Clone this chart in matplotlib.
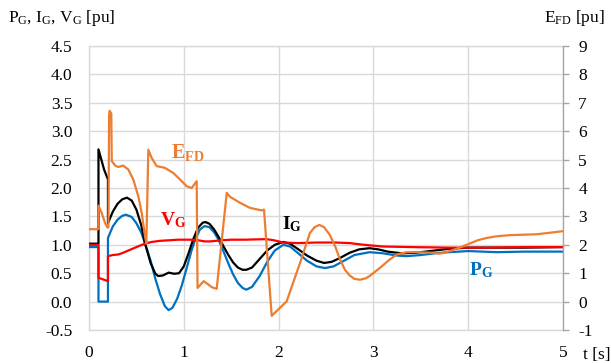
import matplotlib
matplotlib.use('Agg')
import matplotlib.pyplot as plt
from matplotlib.ticker import FixedLocator, FixedFormatter

plt.rcParams['font.family'] = ['Liberation Serif', 'DejaVu Serif']
plt.rcParams['mathtext.fontset'] = 'custom'
plt.rcParams['mathtext.rm'] = 'Liberation Serif'
plt.rcParams['mathtext.it'] = 'Liberation Serif:italic'
plt.rcParams['mathtext.bf'] = 'Liberation Serif:bold'

# ---------------- data ----------------
t_pg = [0, 0.1, 0.1, 0.2, 0.2, 0.25, 0.30, 0.35, 0.39, 0.45, 0.50, 0.55, 0.59, 0.65, 0.70, 0.75,
        0.80, 0.84, 0.88, 0.93, 0.98, 1.03, 1.08, 1.12, 1.17, 1.22, 1.27, 1.32, 1.37, 1.42, 1.47,
        1.52, 1.57, 1.62, 1.66, 1.72, 1.80, 1.88, 1.96, 2.05, 2.12, 2.20, 2.30, 2.40, 2.49, 2.58,
        2.68, 2.80, 2.96, 3.10, 3.25, 3.35, 3.50, 3.65, 3.80, 4.00, 4.30, 4.60, 5.00]
pg = [0.96, 0.96, 0.0, 0.0, 1.12, 1.32, 1.44, 1.51, 1.53, 1.49, 1.38, 1.22, 1.03, 0.72, 0.40, 0.13,
      -0.08, -0.15, -0.11, 0.05, 0.29, 0.59, 0.89, 1.09, 1.27, 1.33, 1.31, 1.22, 1.08, 0.88, 0.67,
      0.48, 0.33, 0.24, 0.21, 0.26, 0.45, 0.70, 0.90, 1.00, 0.97, 0.86, 0.72, 0.62, 0.59, 0.62,
      0.71, 0.82, 0.87, 0.85, 0.81, 0.80, 0.82, 0.85, 0.87, 0.89, 0.87, 0.88, 0.88]

t_ig = [0, 0.1, 0.1, 0.13, 0.16, 0.2, 0.2, 0.25, 0.30, 0.35, 0.40, 0.45, 0.50, 0.55, 0.59, 0.65,
        0.70, 0.73, 0.78, 0.84, 0.90, 0.95, 1.00, 1.05, 1.10, 1.15, 1.20, 1.23, 1.27, 1.32, 1.37,
        1.42, 1.47, 1.52, 1.57, 1.62, 1.66, 1.72, 1.80, 1.88, 1.96, 2.05, 2.12, 2.20, 2.30, 2.40,
        2.48, 2.56, 2.65, 2.75, 2.85, 2.96, 3.05, 3.15, 3.30, 3.45, 3.60, 3.80, 4.00, 4.30, 4.60, 5.00]
ig = [1.02, 1.02, 2.68, 2.50, 2.32, 2.15, 1.38, 1.58, 1.72, 1.80, 1.83, 1.78, 1.62, 1.35, 1.03, 0.68,
      0.49, 0.45, 0.46, 0.51, 0.49, 0.50, 0.62, 0.85, 1.10, 1.30, 1.39, 1.40, 1.37, 1.27, 1.13,
      0.97, 0.82, 0.69, 0.60, 0.56, 0.56, 0.60, 0.75, 0.90, 1.00, 1.05, 1.02, 0.93, 0.81, 0.72,
      0.68, 0.70, 0.77, 0.86, 0.92, 0.94, 0.92, 0.88, 0.85, 0.86, 0.89, 0.93, 0.95, 0.95, 0.95, 0.96]

t_vg = [0, 0.1, 0.1, 0.15, 0.2, 0.2, 0.25, 0.31, 0.36, 0.43, 0.50, 0.59, 0.66, 0.75, 0.85, 0.94,
        1.07, 1.15, 1.22, 1.28, 1.40, 1.50, 1.65, 1.87, 1.95, 2.05, 2.20, 2.40, 2.60, 2.75, 2.90,
        3.10, 3.40, 3.80, 4.20, 4.60, 5.00]
vg = [1.00, 1.00, 0.42, 0.39, 0.36, 0.80, 0.82, 0.83, 0.86, 0.91, 0.96, 1.02, 1.05, 1.07, 1.08, 1.09,
      1.09, 1.08, 1.06, 1.06, 1.08, 1.09, 1.09, 1.10, 1.08, 1.04, 1.03, 1.04, 1.04, 1.03, 1.00,
      0.97, 0.96, 0.95, 0.95, 0.96, 0.96]

t_efd = [0, 0.1, 0.1, 0.134, 0.169, 0.197, 0.205, 0.212, 0.218, 0.235, 0.24, 0.256, 0.28, 0.31,
         0.36, 0.415, 0.467, 0.52, 0.556, 0.591, 0.605, 0.626, 0.661, 0.714, 0.80, 0.889, 0.96,
         1.031, 1.083, 1.136, 1.145, 1.21, 1.30, 1.347, 1.453, 1.487, 1.593, 1.698, 1.822, 1.846,
         1.927, 2.085, 2.226, 2.331, 2.38, 2.43, 2.48, 2.54, 2.60, 2.648, 2.70, 2.75, 2.80, 2.859,
         2.92, 2.96, 3.07, 3.16, 3.246, 3.35, 3.457, 3.63, 3.70, 3.81, 3.91, 4.02, 4.10, 4.195,
         4.30, 4.44, 4.72, 4.85, 5.0]
efd = [2.55, 2.55, 3.38, 3.12, 2.77, 2.60, 2.62, 6.55, 6.72, 6.62, 4.95, 4.88, 4.78, 4.74,
       4.79, 4.65, 4.30, 3.71, 3.12, 2.30, 2.05, 5.35, 5.06, 4.77, 4.71, 4.53, 4.30,
       4.06, 4.00, 4.24, 0.48, 0.72, 0.50, 0.45, 3.83, 3.69, 3.48, 3.30, 3.21, 3.24,
       -0.50, 0.01, 1.36, 2.42, 2.62, 2.70, 2.62, 2.35, 1.92, 1.48, 1.12, 0.92, 0.80, 0.77,
       0.82, 0.90, 1.19, 1.45, 1.66, 1.74, 1.74, 1.72, 1.69, 1.78, 1.90, 2.05, 2.16, 2.24,
       2.30, 2.34, 2.37, 2.42, 2.48]

x_ticks = [0, 1, 2, 3, 4, 5]
x_labels = ['0', '1', '2', '3', '4', '5']
yl_ticks = [-0.5, 0.0, 0.5, 1.0, 1.5, 2.0, 2.5, 3.0, 3.5, 4.0, 4.5]
yl_labels = ['-0.5', '0.0', '0.5', '1.0', '1.5', '2.0', '2.5', '3.0', '3.5', '4.0', '4.5']
yr_ticks = [-1, 0, 1, 2, 3, 4, 5, 6, 7, 8, 9]
yr_labels = ['-1', '0', '1', '2', '3', '4', '5', '6', '7', '8', '9']

# ---------------- styles ----------------
C_PG = '#0070C0'
C_IG = '#000000'
C_VG = '#FF0000'
C_EFD = '#ED7D31'
GRID = '#D9D9D9'
LW = 1.6

W, H = 611, 363
fig = plt.figure(figsize=(W / 100, H / 100), dpi=100)
x0, x1, ytop, ybot = 89, 563, 46, 330
ax = fig.add_axes([x0 / W, 1 - ybot / H, (x1 - x0) / W, (ybot - ytop) / H])
ax2 = ax.twinx()

ax.set_xlim(0, 5)
ax.set_ylim(-0.5, 4.5)
ax2.set_ylim(-1, 9)

ax.xaxis.set_major_locator(FixedLocator(x_ticks))
ax.xaxis.set_major_formatter(FixedFormatter(x_labels))
ax.yaxis.set_major_locator(FixedLocator(yl_ticks))
ax.yaxis.set_major_formatter(FixedFormatter(yl_labels))
ax2.yaxis.set_major_locator(FixedLocator(yr_ticks))
ax2.yaxis.set_major_formatter(FixedFormatter(yr_labels))

ax.grid(True, color=GRID, lw=1.0)
ax.set_axisbelow(True)
for s in ['left', 'bottom', 'top']:
    ax.spines[s].set_color(GRID)
    ax.spines[s].set_linewidth(1.0)
ax.spines['right'].set_visible(False)
for s in ['left', 'bottom', 'top']:
    ax2.spines[s].set_visible(False)
ax2.spines['right'].set_color('#A6A6A6')
ax2.spines['right'].set_linewidth(1.0)

ax.tick_params(axis='y', length=0, pad=12, labelsize=12.5)
ax.tick_params(axis='x', length=0, pad=11, labelsize=12.5)
ax2.tick_params(axis='y', length=4, width=1.0, color='#A6A6A6', pad=7, labelsize=12.5)

ax.plot(t_pg, pg, color=C_PG, lw=LW, zorder=3)
ax.plot(t_ig, ig, color=C_IG, lw=LW, zorder=4)
ax.plot(t_vg, vg, color=C_VG, lw=LW, zorder=5)
ax2.plot(t_efd, efd, color=C_EFD, lw=LW, zorder=3)

fs_lab = 14.5
ax.text(0.87, 2.63, r'$\mathbf{E}_{\mathbf{FD}}$', color=C_EFD, fontsize=fs_lab, va='center', ha='left')
ax.text(0.75, 1.44, r'$\mathbf{V}_{\mathbf{G}}$', color=C_VG, fontsize=14, va='center', ha='left')
ax.text(2.04, 1.36, r'$\mathbf{I}_{\mathbf{G}}$', color=C_IG, fontsize=14, va='center', ha='left')
ax.text(4.01, 0.56, r'$\mathbf{P}_{\mathbf{G}}$', color=C_PG, fontsize=14, va='center', ha='left')

fig.text(8 / W, 1 - 18 / H, r'P$_{\mathrm{G}}$, I$_{\mathrm{G}}$, V$_{\mathrm{G}}$ [pu]', fontsize=12.5,
         va='center', ha='left')
fig.text(605 / W, 1 - 18 / H, r'E$_{\mathrm{FD}}$ [pu]', fontsize=12.5, va='center', ha='right')
fig.text(583 / W, 1 - 355 / H, 't [s]', fontsize=12.5, va='center', ha='left')

fig.savefig('out.png', dpi=100)
